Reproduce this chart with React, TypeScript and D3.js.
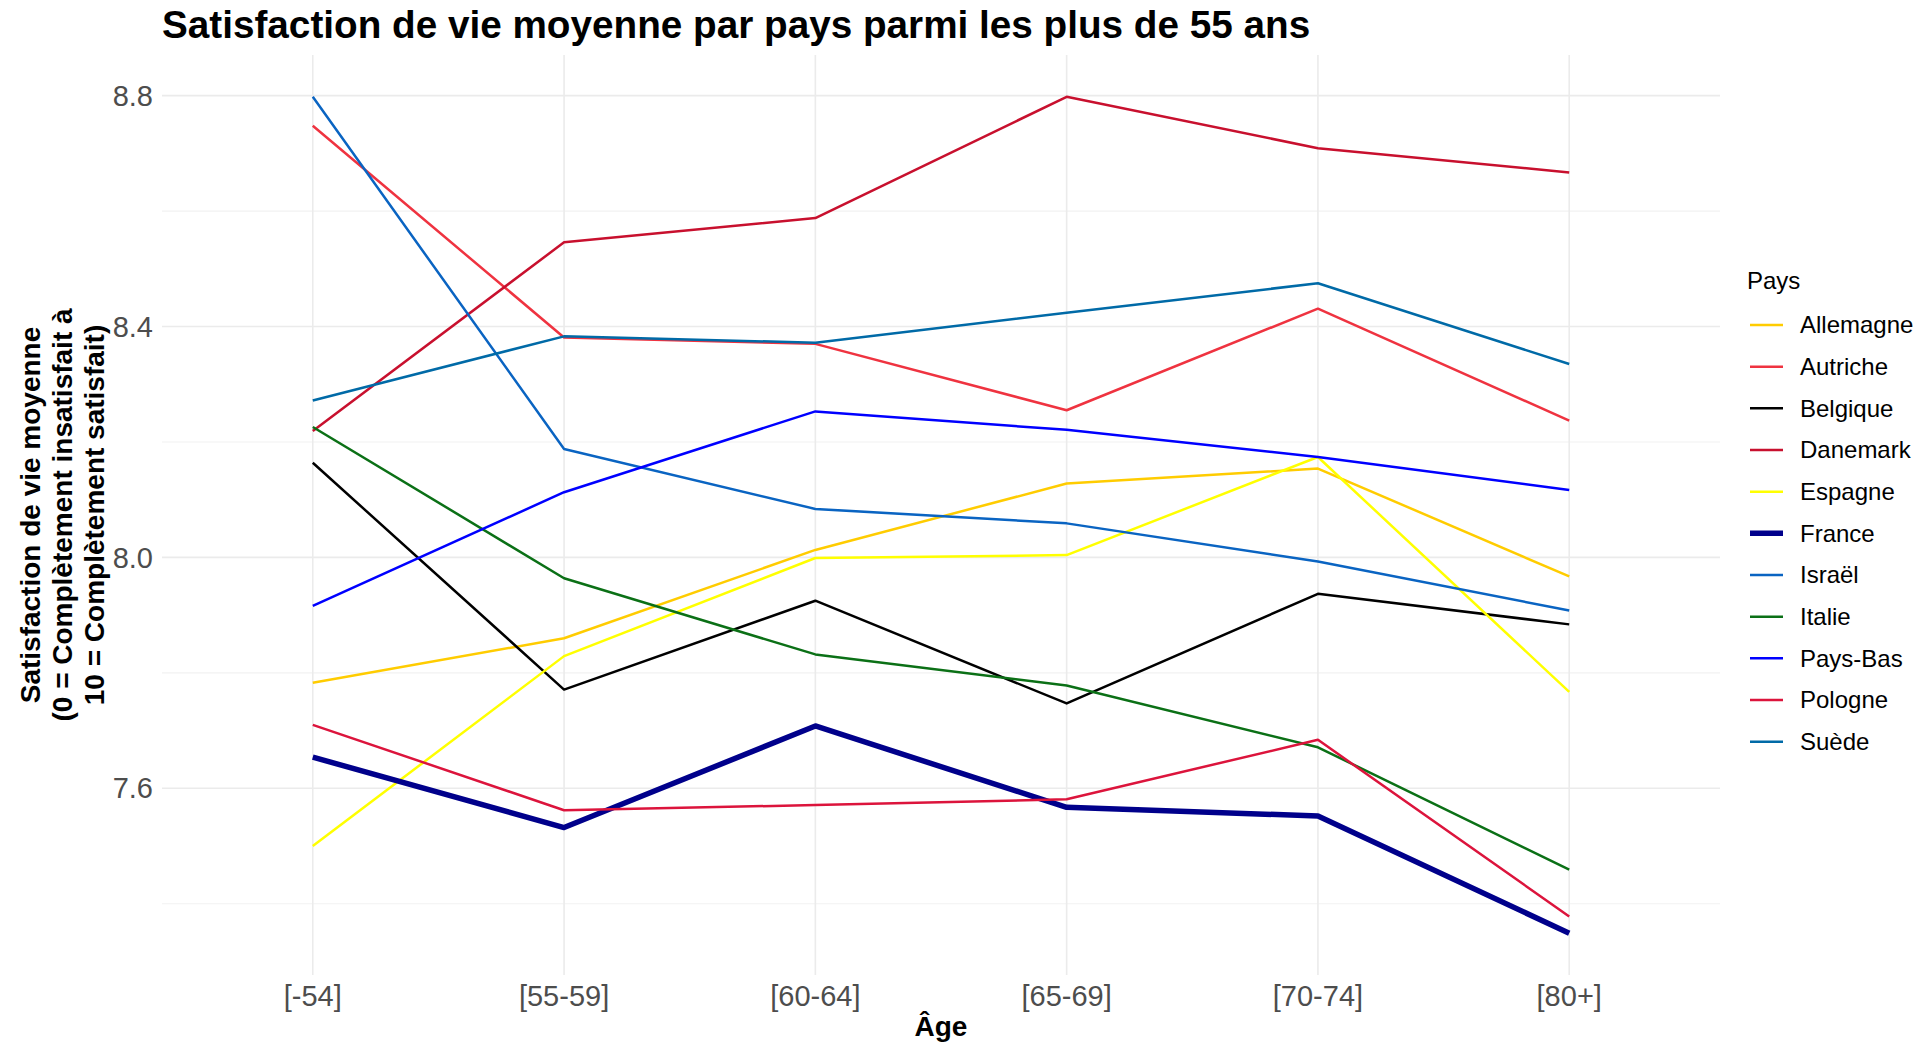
import React, { useRef, useEffect } from 'react';
import * as d3 from 'd3';

const ages = ['[-54]', '[55-59]', '[60-64]', '[65-69]', '[70-74]', '[80+]'];

const countries = [
  'Allemagne', 'Autriche', 'Belgique', 'Danemark', 'Espagne', 'France',
  'Israël', 'Italie', 'Pays-Bas', 'Pologne', 'Suède',
];

const allemagne = [7.783, 7.86, 8.013, 8.128, 8.154, 7.967];
const autriche = [8.748, 8.381, 8.37, 8.255, 8.431, 8.237];
const belgique = [8.164, 7.771, 7.925, 7.747, 7.937, 7.884];
const danemark = [8.219, 8.546, 8.588, 8.798, 8.709, 8.667];
const espagne = [7.5, 7.829, 7.999, 8.004, 8.174, 7.767];
const france = [7.654, 7.532, 7.708, 7.567, 7.552, 7.349];
const israel = [8.798, 8.188, 8.084, 8.059, 7.993, 7.908];
const italie = [8.226, 7.964, 7.832, 7.778, 7.671, 7.459];
const paysBas = [7.916, 8.113, 8.253, 8.221, 8.174, 8.117];
const pologne = [7.71, 7.562, 7.571, 7.581, 7.684, 7.378];
const suede = [8.272, 8.383, 8.372, 8.424, 8.475, 8.335];

const seriesValues = [
  allemagne, autriche, belgique, danemark, espagne, france,
  israel, italie, paysBas, pologne, suede,
];

const colors = [
  '#FFCC00', '#EF3340', '#000000', '#C8102E', '#FFFF00', '#00008B',
  '#0A64C2', '#0B7016', '#0000FF', '#DC143C', '#006AA7',
];

const yMajor = [7.6, 8.0, 8.4, 8.8];
const yMinor = [7.4, 7.8, 8.2, 8.6];

const yTitleLines = [
  'Satisfaction de vie moyenne',
  '(0 = Complètement insatisfait à',
  '10 = Complètement satisfait)',
];

const FONT = "'Liberation Sans', Arial, Helvetica, sans-serif";

function App(): React.ReactElement {
  const ref = useRef<SVGSVGElement | null>(null);

  useEffect(() => {
    if (!ref.current) return;
    const width = 1931;
    const height = 1043;
    const panel = { left: 162, right: 1720, top: 55, bottom: 975 };

    const svg = d3.select(ref.current);
    svg.selectAll('*').remove();
    svg.attr('width', width).attr('height', height);

    svg.append('rect').attr('width', width).attr('height', height).attr('fill', '#fff');

    const x = d3.scalePoint<string>().domain(ages).range([panel.left, panel.right]).padding(0.6);

    const all = seriesValues.flat();
    const [lo, hi] = d3.extent(all) as [number, number];
    const pad = (hi - lo) * 0.05;
    const y = d3.scaleLinear().domain([lo - pad, hi + pad]).range([panel.bottom, panel.top]);

    // grid
    const grid = svg.append('g');
    grid.selectAll('line.minor')
      .data(yMinor)
      .join('line')
      .attr('x1', panel.left).attr('x2', panel.right)
      .attr('y1', d => y(d)).attr('y2', d => y(d))
      .attr('stroke', '#F2F2F2').attr('stroke-width', 1.2);
    grid.selectAll('line.major')
      .data(yMajor)
      .join('line')
      .attr('x1', panel.left).attr('x2', panel.right)
      .attr('y1', d => y(d)).attr('y2', d => y(d))
      .attr('stroke', '#EBEBEB').attr('stroke-width', 1.6);
    grid.selectAll('line.vert')
      .data(ages)
      .join('line')
      .attr('x1', d => x(d)!).attr('x2', d => x(d)!)
      .attr('y1', panel.top).attr('y2', panel.bottom)
      .attr('stroke', '#EBEBEB').attr('stroke-width', 1.6);

    // lines
    const line = d3.line<number>()
      .x((_, i) => x(ages[i])!)
      .y(d => y(d));

    seriesValues.forEach((vals, i) => {
      svg.append('path')
        .attr('d', line(vals) ?? '')
        .attr('fill', 'none')
        .attr('stroke', colors[i])
        .attr('stroke-width', countries[i] === 'France' ? 5.5 : 2.5)
        .attr('stroke-linejoin', 'round');
    });

    // y axis labels
    svg.append('g')
      .selectAll('text')
      .data(yMajor)
      .join('text')
      .attr('x', panel.left - 9)
      .attr('y', d => y(d))
      .attr('dy', '0.35em')
      .attr('text-anchor', 'end')
      .attr('font-family', FONT)
      .attr('font-size', 29)
      .attr('fill', '#4D4D4D')
      .text(d => d3.format('.1f')(d));

    // x axis labels
    svg.append('g')
      .selectAll('text')
      .data(ages)
      .join('text')
      .attr('x', d => x(d)!)
      .attr('y', 1006)
      .attr('text-anchor', 'middle')
      .attr('font-family', FONT)
      .attr('font-size', 29)
      .attr('fill', '#4D4D4D')
      .text(d => d);

    svg.append('text')
      .attr('x', (panel.left + panel.right) / 2)
      .attr('y', 1036)
      .attr('text-anchor', 'middle')
      .attr('font-family', FONT)
      .attr('font-weight', 'bold')
      .attr('font-size', 28)
      .text('Âge');

    const yMid = (panel.top + panel.bottom) / 2;
    yTitleLines.forEach((t, i) => {
      svg.append('text')
        .attr('transform', `translate(${30 + i * 32},${yMid}) rotate(-90)`)
        .attr('dy', '0.35em')
        .attr('text-anchor', 'middle')
        .attr('font-family', FONT)
        .attr('font-weight', 'bold')
        .attr('font-size', 28)
        .text(t);
    });

    // title
    svg.append('text')
      .attr('x', panel.left)
      .attr('y', 38)
      .attr('font-family', FONT)
      .attr('font-weight', 'bold')
      .attr('font-size', 38.7)
      .text('Satisfaction de vie moyenne par pays parmi les plus de 55 ans');

    // legend
    const legend = svg.append('g').attr('transform', 'translate(1747,0)');
    legend.append('text')
      .attr('x', 0).attr('y', 289)
      .attr('font-family', FONT).attr('font-size', 24)
      .text('Pays');
    const items = legend.selectAll('g.item')
      .data(countries)
      .join('g')
      .attr('transform', (_, i) => `translate(0,${325 + i * 41.67})`);
    items.append('line')
      .attr('x1', 3).attr('x2', 36)
      .attr('stroke', (_, i) => colors[i])
      .attr('stroke-width', d => (d === 'France' ? 5.5 : 2.5));
    items.append('text')
      .attr('x', 53).attr('dy', '0.35em')
      .attr('font-family', FONT).attr('font-size', 24)
      .text(d => d);
  }, []);

  return (
    <div style={{ position: 'absolute', left: 0, top: 0 }}>
      <svg ref={ref} />
    </div>
  );
}

export default App;
